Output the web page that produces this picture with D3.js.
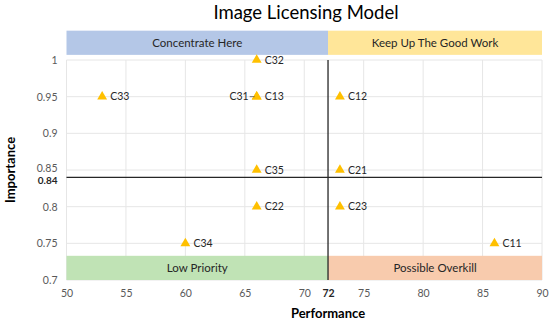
<!DOCTYPE html>
<html>
<head>
<meta charset="utf-8">
<script src="https://cdn.jsdelivr.net/npm/d3@7"></script>
<style>
  body { margin: 0; background: #fff; }
  svg { font-family: Lato, "Open Sans", sans-serif; }
</style>
</head>
<body>
<div id="chart"></div>
<script>
// criteria: performance vs importance
var names       = ["C11", "C12", "C13", "C21", "C22", "C23", "C31", "C32", "C33", "C34", "C35"];
var performance = [86, 73, 66, 73, 66, 73, 66, 66, 53, 60, 66];
var importance  = [0.75, 0.95, 0.95, 0.85, 0.8, 0.8, 0.95, 1.0, 0.95, 0.75, 0.85];
var labelLeft   = ["C31"];

var xTicks = [50, 55, 60, 65, 70, 75, 80, 85, 90];
var yTicks = [0.7, 0.75, 0.8, 0.85, 0.9, 0.95, 1];
var xCut = 72;
var yCut = 0.84;

// quadrant captions: [label, x0, x1, y0, y1]
var bandLabels = ["Concentrate Here", "Keep Up The Good Work", "Low Priority", "Possible Overkill"];
var bandX0 = [50, 72, 50, 72];
var bandX1 = [72, 90, 72, 90];
var bandY0 = [1.007, 1.007, 0.7, 0.7];
var bandY1 = [1.04, 1.04, 0.733, 0.733];
var bandColors = ["#b4c7e7", "#ffe699", "#c0e3b5", "#f8cbad"];

function draw_chart() {
    var margin = { top: 60, right: 8, bottom: 44, left: 66.5 };
    var width  = 550 - margin.left - margin.right;
    var height = 324 - margin.top - margin.bottom;

    var svg = d3.select("#chart")
        .append("svg")
        .attr("width", 550)
        .attr("height", 324)
        .append("g")
        .attr("transform", "translate(" + margin.left + "," + margin.top + ")");

    var x = d3.scaleLinear().domain([50, 90]).range([0, width]);
    var y = d3.scaleLinear().domain([0.7, 1]).range([height, 0]);

    // gridlines
    svg.append("g").selectAll("line")
        .data(xTicks)
        .enter().append("line")
        .attr("x1", function(d) { return x(d); })
        .attr("x2", function(d) { return x(d); })
        .attr("y1", 0).attr("y2", height)
        .attr("stroke", "#e6e6e6");
    svg.append("g").selectAll("line")
        .data(yTicks)
        .enter().append("line")
        .attr("y1", function(d) { return y(d); })
        .attr("y2", function(d) { return y(d); })
        .attr("x1", 0).attr("x2", width)
        .attr("stroke", "#e6e6e6");

    // quadrant bands
    var bands = svg.append("g").selectAll("g")
        .data(bandLabels)
        .enter().append("g");
    bands.append("rect")
        .attr("x", function(d, i) { return x(bandX0[i]); })
        .attr("width", function(d, i) { return x(bandX1[i]) - x(bandX0[i]); })
        .attr("y", function(d, i) { return y(bandY1[i]); })
        .attr("height", function(d, i) { return y(bandY0[i]) - y(bandY1[i]); })
        .attr("fill", function(d, i) { return bandColors[i]; });
    bands.append("text")
        .attr("x", function(d, i) { return (x(bandX0[i]) + x(bandX1[i])) / 2; })
        .attr("y", function(d, i) { return (y(bandY0[i]) + y(bandY1[i])) / 2; })
        .attr("dy", "0.35em")
        .attr("text-anchor", "middle")
        .attr("font-size", 11.5)
        .attr("fill", "#262626")
        .text(function(d) { return d; });

    // cut lines
    svg.append("line")
        .attr("x1", x(xCut)).attr("x2", x(xCut))
        .attr("y1", 0).attr("y2", height)
        .attr("stroke", "#262626").attr("stroke-width", 1.3);
    svg.append("line")
        .attr("x1", 0).attr("x2", width)
        .attr("y1", y(yCut)).attr("y2", y(yCut))
        .attr("stroke", "#262626").attr("stroke-width", 1.3);

    // axes
    var xAxis = svg.append("g")
        .attr("transform", "translate(0," + height + ")")
        .call(d3.axisBottom(x).tickValues(xTicks.concat([xCut])).tickSize(0).tickPadding(10)
            .tickFormat(d3.format("d")));
    var yAxis = svg.append("g")
        .call(d3.axisLeft(y).tickValues(yTicks.concat([yCut])).tickSize(0).tickPadding(9)
            .tickFormat(function(d) { return d === 1 ? "1" : d3.format("")(d); }));
    [xAxis, yAxis].forEach(function(a) {
        a.select(".domain").remove();
        a.selectAll("text")
            .attr("font-family", "Lato, 'Open Sans', sans-serif")
            .attr("font-size", 10.5)
            .attr("fill", "#595959");
    });
    xAxis.selectAll(".tick").filter(function(d) { return d === xCut; })
        .select("text").attr("fill", "#262626").attr("font-weight", "bold");
    yAxis.selectAll(".tick").filter(function(d) { return d === 0.85; })
        .select("text").attr("dy", "0.12em");
    yAxis.selectAll(".tick").filter(function(d) { return d === yCut; })
        .select("text").attr("fill", "#262626").attr("font-weight", "bold")
        .attr("font-size", 10).attr("dy", "0.6em");

    // points
    var pts = svg.append("g").selectAll("g")
        .data(names)
        .enter().append("g")
        .attr("transform", function(d, i) {
            return "translate(" + x(performance[i]) + "," + y(importance[i]) + ")";
        });
    pts.append("path")
        .attr("d", d3.symbol().type(d3.symbolTriangle).size(42))
        .attr("fill", "#ffc000");
    pts.append("text")
        .attr("x", function(d) { return labelLeft.indexOf(d) >= 0 ? -8 : 8; })
        .attr("dy", "0.35em")
        .attr("text-anchor", function(d) { return labelLeft.indexOf(d) >= 0 ? "end" : "start"; })
        .attr("font-size", 10.5)
        .attr("fill", "#262626")
        .text(function(d) { return d; });
    pts.filter(function(d) { return labelLeft.indexOf(d) >= 0; })
        .append("line")
        .attr("x1", -7).attr("x2", -2).attr("y1", 0).attr("y2", 0)
        .attr("stroke", "#595959").attr("stroke-width", 0.8);

    // titles
    var top = d3.select("#chart svg");
    top.append("text")
        .attr("x", 306).attr("y", 19)
        .attr("text-anchor", "middle")
        .attr("font-size", 18.5)
        .attr("fill", "#000")
        .text("Image Licensing Model");
    top.append("text")
        .attr("x", margin.left + x(xCut)).attr("y", 318)
        .attr("text-anchor", "middle")
        .attr("font-size", 13).attr("font-weight", "bold")
        .attr("fill", "#000")
        .text("Performance");
    top.append("text")
        .attr("transform", "translate(15," + (margin.top + y(0.85)) + ") rotate(-90)")
        .attr("text-anchor", "middle")
        .attr("font-size", 13).attr("font-weight", "bold")
        .attr("fill", "#000")
        .text("Importance");
}

draw_chart();
</script>
</body>
</html>
